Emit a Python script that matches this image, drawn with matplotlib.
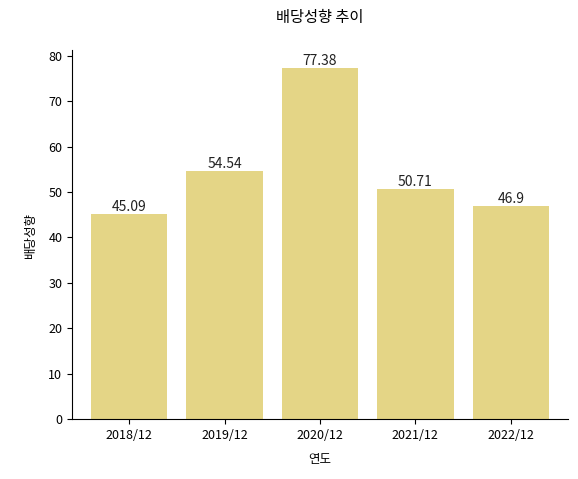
import matplotlib
matplotlib.use("Agg")
import matplotlib.pyplot as plt

plt.rcParams['font.family'] = ['Noto Sans CJK KR', 'DejaVu Sans']

years = ["2018/12", "2019/12", "2020/12", "2021/12", "2022/12"]
values = [45.09, 54.54, 77.38, 50.71, 46.9]

fig = plt.figure(figsize=(5.78, 4.79), dpi=100)
ax = fig.add_axes([72/578, 1-419/479, (568-72)/578, (419-50)/479])
bars = ax.bar(years, values, color="#e4d586", width=0.8)
for b, v in zip(bars, values):
    ax.text(b.get_x()+b.get_width()/2, v, str(v), ha="center", va="bottom", fontsize=10, color="#222222")
ax.set_ylim(0, 81.3)
ax.set_xlim(-0.6, 4.6)
ax.spines['top'].set_visible(False)
ax.spines['right'].set_visible(False)
ax.set_title("배당성향 추이", fontsize=11, pad=20)
ax.set_xlabel("연도", fontsize=9, labelpad=8)
ax.set_ylabel("배당성향", fontsize=9, labelpad=8)
ax.tick_params(labelsize=9)
fig.savefig("out.png", dpi=100)
